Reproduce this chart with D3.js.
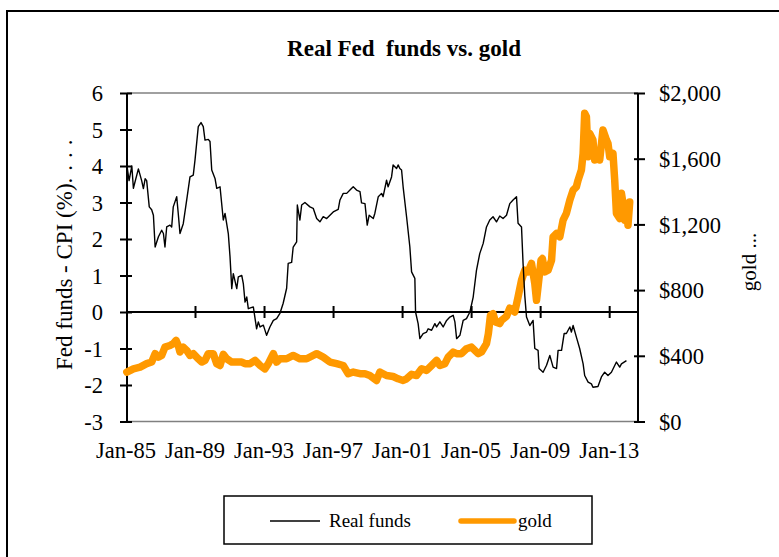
<!DOCTYPE html>
<html><head><meta charset="utf-8">
<script src="https://cdn.jsdelivr.net/npm/d3@7"></script>
<style>
html,body{margin:0;padding:0;background:#fff;}
svg{display:block;}
text{font-family:"Liberation Serif","Times New Roman",serif;fill:#000;}
</style></head><body>
<svg id="chart" width="779" height="557"></svg>
<script>
// ---- data ----
const realDates=[1985.05,1985.18,1985.34,1985.43,1985.72,1985.91,1986.01,1986.11,1986.20,1986.35,
1986.49,1986.59,1986.69,1986.88,1987.07,1987.17,1987.26,1987.36,1987.55,1987.65,
1987.74,1987.94,1988.03,1988.13,1988.32,1988.52,1988.71,1988.90,1989.00,1989.19,
1989.35,1989.48,1989.58,1989.77,1989.87,1989.97,1990.16,1990.26,1990.45,1990.64,
1990.74,1990.93,1991.03,1991.13,1991.22,1991.42,1991.51,1991.71,1991.80,1991.90,
1992.00,1992.09,1992.38,1992.57,1992.67,1992.77,1992.96,1993.15,1993.34,1993.54,
1993.73,1993.92,1994.11,1994.31,1994.40,1994.60,1994.69,1994.89,1994.93,1995.08,
1995.18,1995.37,1995.66,1995.85,1996.05,1996.24,1996.43,1996.63,1996.82,1997.01,
1997.30,1997.40,1997.59,1997.79,1997.98,1998.17,1998.36,1998.56,1998.65,1998.85,
1998.98,1999.09,1999.33,1999.42,1999.62,1999.81,1999.90,2000.10,2000.19,2000.39,
2000.48,2000.68,2000.77,2000.87,2000.97,2001.06,2001.26,2001.45,2001.55,2001.74,
2001.78,2001.93,2002.03,2002.22,2002.42,2002.51,2002.71,2002.90,2003.00,2003.19,
2003.38,2003.58,2003.77,2003.96,2004.06,2004.16,2004.35,2004.54,2004.73,2004.93,
2005.12,2005.31,2005.50,2005.70,2005.89,2006.08,2006.27,2006.47,2006.66,2006.85,
2007.05,2007.24,2007.43,2007.63,2007.72,2007.92,2008.01,2008.11,2008.21,2008.40,
2008.59,2008.69,2008.88,2008.94,2009.17,2009.37,2009.56,2009.75,2009.95,2010.04,
2010.24,2010.39,2010.52,2010.72,2010.81,2010.91,2011.10,2011.29,2011.49,2011.58,
2011.78,2011.97,2012.06,2012.35,2012.55,2012.74,2012.93,2013.13,2013.42,2013.61,
2013.71,2014.00];
const realValues=[4.03,3.6,4.0,3.39,3.92,3.6,3.38,3.65,3.6,2.88,
2.8,2.65,1.78,2.06,2.24,2.15,1.78,2.33,2.38,2.33,
2.88,3.16,2.7,2.15,2.42,3.07,3.7,3.75,4.16,5.08,
5.19,5.08,4.71,4.73,4.67,3.89,3.66,3.39,3.43,2.52,
2.7,2.15,1.51,0.64,1.05,0.64,0.96,1.0,0.78,0.27,
0.41,0.09,0.14,-0.46,-0.27,-0.41,-0.36,-0.64,-0.41,-0.23,
-0.18,-0.04,0.24,0.65,1.33,1.36,1.78,1.92,2.93,2.52,
2.93,3.0,2.88,2.84,2.56,2.47,2.61,2.56,2.65,2.74,
2.81,3.07,3.25,3.25,3.34,3.43,3.34,3.3,2.99,2.97,
2.38,2.65,2.56,2.7,3.16,3.25,3.16,3.61,3.43,3.7,
4.03,3.93,4.03,3.93,3.89,3.43,2.61,1.78,1.1,0.92,
0.0,-0.32,-0.73,-0.59,-0.55,-0.46,-0.5,-0.32,-0.41,-0.27,
-0.41,-0.23,-0.14,-0.09,-0.27,-0.73,-0.64,-0.23,-0.18,0.0,
0.41,1.14,1.6,1.88,2.33,2.52,2.61,2.47,2.63,2.56,
2.65,2.97,3.07,3.16,2.43,2.33,1.33,0.45,-0.14,-0.37,
-0.23,-1.0,-1.05,-1.55,-1.65,-1.46,-1.19,-1.51,-1.55,-1.05,
-1.05,-0.59,-0.59,-0.41,-0.55,-0.37,-0.69,-1.0,-1.42,-1.74,
-1.92,-1.97,-2.06,-2.04,-1.78,-1.65,-1.74,-1.65,-1.37,-1.51,
-1.42,-1.33];
const goldDates=[1985.05,1985.43,1985.82,1986.20,1986.49,1986.69,1986.88,1987.07,1987.26,1987.55,
1987.74,1987.90,1988.03,1988.13,1988.32,1988.52,1988.71,1988.90,1989.19,1989.39,
1989.58,1989.77,1990.06,1990.26,1990.45,1990.64,1990.84,1991.13,1991.42,1991.71,
1991.90,1992.19,1992.48,1992.77,1993.05,1993.25,1993.54,1993.73,1993.92,1994.31,
1994.69,1995.08,1995.47,1996.05,1996.43,1996.82,1997.21,1997.59,1997.88,1998.17,
1998.56,1998.85,1999.13,1999.52,1999.71,2000.10,2000.48,2000.77,2001.06,2001.26,
2001.55,2001.84,2002.13,2002.42,2002.71,2003.00,2003.19,2003.48,2003.67,2003.96,
2004.16,2004.44,2004.73,2005.02,2005.41,2005.60,2005.89,2006.00,2006.12,2006.27,
2006.41,2006.66,2006.76,2007.05,2007.24,2007.53,2007.72,2007.92,2008.11,2008.30,
2008.50,2008.69,2008.79,2009.05,2009.13,2009.27,2009.46,2009.66,2009.75,2009.95,
2010.14,2010.33,2010.52,2010.72,2010.91,2011.10,2011.20,2011.39,2011.49,2011.58,
2011.68,2011.78,2011.87,2012.06,2012.16,2012.35,2012.45,2012.64,2012.84,2012.93,
2013.03,2013.22,2013.32,2013.42,2013.61,2013.71,2013.80,2013.90,2014.00,2014.09,
2014.19];
const goldValues=[301,321,331,352,362,413,392,402,453,463,
474,494,463,423,453,433,402,413,382,362,
372,413,413,352,341,409,382,362,362,362,
352,352,372,341,321,352,413,362,382,382,
402,382,382,413,392,362,352,341,291,301,
291,291,280,250,301,280,274,260,250,260,
287,280,321,311,341,372,341,352,392,423,
413,413,443,453,413,423,474,535,646,657,
606,596,616,640,690,667,758,860,921,911,
962,840,738,982,992,911,921,982,1124,1145,
1124,1226,1267,1348,1409,1429,1470,1531,1633,1876,
1856,1612,1754,1714,1592,1643,1592,1775,1714,1694,
1612,1632,1470,1267,1236,1389,1328,1226,1328,1195,
1337];
const xTickYears=[1985,1989,1993,1997,2001,2005,2009,2013];
const xTickLabels=["Jan-85","Jan-89","Jan-93","Jan-97","Jan-01","Jan-05","Jan-09","Jan-13"];
const leftTicks=[-3,-2,-1,0,1,2,3,4,5,6];
const rightTicks=[0,400,800,1200,1600,2000];
const seriesNames=["Real funds","gold"];
const titleText="Real Fed  funds vs. gold";
const leftTitleMain="Fed funds - CPI (%)";
const leftTitleTail="....";
const rightTitle="gold ...";

// ---- layout ----
const W=779,H=557;
const P={left:127,right:638,top:93,bottom:421.5};
const FONT_TICK=22.5;
const svg=d3.select("#chart");
svg.append("rect").attr("width",W).attr("height",H).attr("fill","#fff");
svg.append("rect").attr("x",7).attr("y",11).attr("width",820).attr("height",620)
  .attr("fill","none").attr("stroke","#000").attr("stroke-width",2);

const x=d3.scaleLinear().domain([1985.06,2014.67]).range([P.left,P.right]);
const yL=d3.scaleLinear().domain([-3,6]).range([P.bottom,P.top]);
const yR=d3.scaleLinear().domain([0,2000]).range([P.bottom,P.top]);

// title
svg.append("text").attr("x",404).attr("y",56).attr("text-anchor","middle")
  .style("white-space","pre").attr("font-size",23).attr("font-weight","bold").text(titleText);

// plot area border (grey top/bottom)
[P.top,P.bottom].forEach(yy=>{
  svg.append("line").attr("x1",P.left).attr("x2",P.right).attr("y1",yy).attr("y2",yy)
    .attr("stroke","#808080").attr("stroke-width",1.5);
});

// left axis
const gL=svg.append("g").attr("transform",`translate(${P.left},0)`)
  .call(d3.axisLeft(yL).tickValues(leftTicks).tickSize(7).tickPadding(17).tickFormat(d=>String(d)));
gL.select(".domain").attr("stroke","#000").attr("stroke-width",2).attr("d",`M0,${P.top}V${P.bottom}`);
gL.selectAll(".tick line").attr("stroke","#000").attr("stroke-width",2).attr("x1",5).attr("x2",-7);
gL.selectAll(".tick text").attr("font-size",FONT_TICK).attr("font-family",null).attr("dy","0.34em");

// right axis
const gR=svg.append("g").attr("transform",`translate(${P.right},0)`)
  .call(d3.axisRight(yR).tickValues(rightTicks).tickSize(7).tickPadding(14).tickFormat(d=>"$"+d3.format(",")(d)));
gR.select(".domain").attr("stroke","#000").attr("stroke-width",2).attr("d",`M0,${P.top}V${P.bottom}`);
gR.selectAll(".tick line").attr("stroke","#000").attr("stroke-width",2).attr("x1",-4).attr("x2",7);
gR.selectAll(".tick text").attr("font-size",FONT_TICK).attr("font-family",null).attr("dy","0.34em");

// x axis at zero
const y0=yL(0);
const gX=svg.append("g").attr("transform",`translate(0,${y0})`)
  .call(d3.axisBottom(x).tickValues(xTickYears.slice(1)).tickSize(6).tickFormat(""));
gX.select(".domain").attr("stroke","#000").attr("stroke-width",2).attr("d",`M${P.left},0H${P.right}`);
gX.selectAll(".tick line").attr("stroke","#000").attr("stroke-width",2).attr("y1",-6).attr("y2",6);

// x tick labels at the bottom
svg.append("g").selectAll("text").data(xTickYears).join("text")
  .attr("x",d=>x(d)).attr("y",458).attr("text-anchor","middle").attr("font-size",FONT_TICK)
  .text((d,i)=>xTickLabels[i]);

// axis titles
const lt=svg.append("text").attr("transform","translate(72,370) rotate(-90)").attr("text-anchor","start")
  .attr("font-size",23);
lt.append("tspan").text(leftTitleMain);
lt.append("tspan").attr("letter-spacing",7).text(leftTitleTail);
svg.append("text").attr("transform","translate(756,262) rotate(-90)").attr("text-anchor","middle")
  .attr("font-size",21).text(rightTitle);

// series
const goldData=goldDates.map((d,i)=>[d,goldValues[i]]);
const realData=realDates.map((d,i)=>[d,realValues[i]]);
svg.append("path").datum(goldData)
  .attr("d",d3.line().x(d=>x(d[0])).y(d=>yR(d[1])))
  .attr("fill","none").attr("stroke","#FF9900").attr("stroke-width",7.5)
  .attr("stroke-linejoin","round").attr("stroke-linecap","round");
svg.append("path").datum(realData)
  .attr("d",d3.line().x(d=>x(d[0])).y(d=>yL(d[1])))
  .attr("fill","none").attr("stroke","#000").attr("stroke-width",1.4)
  .attr("stroke-linejoin","round");

// legend
const lg=svg.append("g");
lg.append("rect").attr("x",224).attr("y",496).attr("width",368).attr("height",48)
  .attr("fill","#fff").attr("stroke","#000").attr("stroke-width",1.5);
lg.append("line").attr("x1",270).attr("x2",320).attr("y1",521).attr("y2",521)
  .attr("stroke","#000").attr("stroke-width",1.4);
lg.append("text").attr("x",329).attr("y",527).attr("font-size",19).text(seriesNames[0]);
lg.append("line").attr("x1",461).attr("x2",514).attr("y1",521).attr("y2",521)
  .attr("stroke","#FF9900").attr("stroke-width",5.5).attr("stroke-linecap","round");
lg.append("text").attr("x",518).attr("y",527).attr("font-size",19).text(seriesNames[1]);
</script>
</body></html>
